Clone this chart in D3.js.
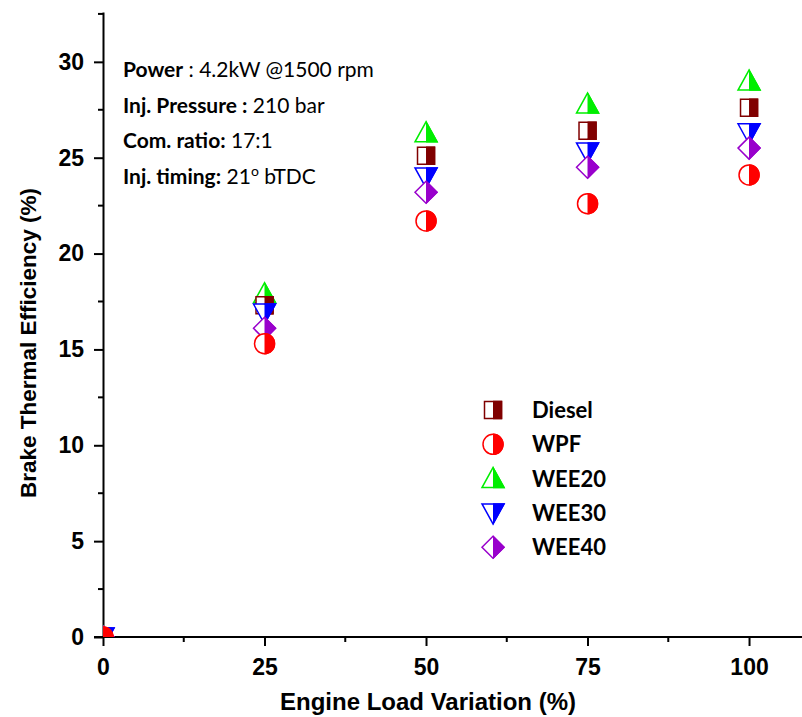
<!DOCTYPE html>
<html>
<head>
<meta charset="utf-8">
<title>Brake Thermal Efficiency</title>
<script src="https://d3js.org/d3.v7.min.js"></script>
<style>
  body { margin: 0; background: #fff; }
  svg { display: block; }
</style>
</head>
<body>
<svg width="802" height="717"></svg>
<script>
// data
var loads = [0, 25, 50, 75, 100];
var diesel = [0, 17.3, 25.1, 26.4, 27.6];
var wpf    = [0, 15.3, 21.7, 22.6, 24.1];
var wee20  = [0, 17.9, 26.3, 27.8, 29.0];
var wee30  = [0, 16.9, 24.0, 25.3, 26.3];
var wee40  = [0, 16.1, 23.2, 24.5, 25.5];
var xTicks = [0, 25, 50, 75, 100];
var yTicks = [0, 5, 10, 15, 20, 25, 30];
var notes = [
  ["Power", "  : 4.2kW @1500 rpm"],
  ["Inj. Pressure :", " 210 bar"],
  ["Com. ratio:", " 17:1"],
  ["Inj. timing:", " 21", "o", " bTDC"]
];

var series = [
  { name: "Diesel", values: diesel, color: "#800000", shape: "square" },
  { name: "WPF",    values: wpf,    color: "#ff0000", shape: "circle" },
  { name: "WEE20",  values: wee20,  color: "#00ee00", shape: "up" },
  { name: "WEE30",  values: wee30,  color: "#0000ff", shape: "down" },
  { name: "WEE40",  values: wee40,  color: "#9900cc", shape: "diamond" }
];

var svg = d3.select("svg");
// plot box (note: "top" is reserved on window, so use other names)
var plotL = 103, plotT = 12, plotR = 802, plotB = 637;

var x = d3.scaleLinear().domain([0, 108.2]).range([plotL, plotR]);
var y = d3.scaleLinear().domain([0, 32.6]).range([plotB, plotT]);

var defs = svg.append("defs");
defs.append("clipPath").attr("id", "plot")
  .append("rect").attr("x", plotL).attr("y", plotT - 20)
  .attr("width", plotR - plotL).attr("height", plotB - plotT + 20);
defs.append("clipPath").attr("id", "half")
  .append("rect").attr("x", 0).attr("y", -20).attr("width", 20).attr("height", 40);

function shapePath(s) {
  if (s == "square") return "M-8.5,-8.5H8.5V8.5H-8.5Z";
  if (s == "up") return "M0,-11L11,9H-11Z";
  if (s == "down") return "M0,11L11,-9H-11Z";
  if (s == "diamond") return "M0,-11L11,0L0,11L-11,0Z";
  return d3.arc()({ innerRadius: 0, outerRadius: 10, startAngle: 0, endAngle: 2 * Math.PI });
}

function marker(g, s, color) {
  g.append("path").attr("d", shapePath(s))
    .attr("fill", "#fff").attr("stroke", color).attr("stroke-width", 1.5);
  g.append("path").attr("d", shapePath(s))
    .attr("fill", color).attr("stroke", color).attr("stroke-width", 1.5)
    .attr("clip-path", "url(#half)");
}

// axes
var xAxis = d3.axisBottom(x).tickValues(xTicks).tickSize(9).tickSizeOuter(0).tickPadding(13);
var yAxis = d3.axisLeft(y).tickValues(yTicks).tickSize(9).tickSizeOuter(0).tickPadding(10);

var gx = svg.append("g").attr("transform", "translate(0," + plotB + ")").call(xAxis);
var gy = svg.append("g").attr("transform", "translate(" + plotL + ",0)").call(yAxis);

[gx, gy].forEach(function(g) {
  g.select(".domain").attr("stroke", "#000").attr("stroke-width", 2);
  g.selectAll(".tick line").attr("stroke", "#000").attr("stroke-width", 2);
  g.selectAll(".tick text").attr("fill", "#000")
    .style("font-family", "'Liberation Sans', Arial, sans-serif")
    .style("font-size", "23px").style("font-weight", "bold");
});
gx.select(".domain").attr("d", "M" + (plotL - 9) + ",0H" + plotR);

// minor ticks
svg.append("g").selectAll("line")
  .data([12.5, 37.5, 62.5, 87.5]).enter().append("line")
  .attr("x1", function(d) { return x(d); }).attr("x2", function(d) { return x(d); })
  .attr("y1", plotB).attr("y2", plotB + 5)
  .attr("stroke", "#000").attr("stroke-width", 2);
svg.append("g").selectAll("line")
  .data([2.5, 7.5, 12.5, 17.5, 22.5, 27.5, 32.5]).enter().append("line")
  .attr("y1", function(d) { return y(d); }).attr("y2", function(d) { return y(d); })
  .attr("x1", plotL - 5).attr("x2", plotL)
  .attr("stroke", "#000").attr("stroke-width", 2);

// axis titles
svg.append("text")
  .attr("x", 428).attr("y", 710).attr("text-anchor", "middle")
  .style("font-family", "'Liberation Sans', Arial, sans-serif")
  .style("font-size", "24px").style("font-weight", "bold")
  .text("Engine Load Variation (%)");
svg.append("text")
  .attr("transform", "translate(36,343) rotate(-90)").attr("text-anchor", "middle")
  .style("font-family", "'Liberation Sans', Arial, sans-serif")
  .style("font-size", "22.5px").style("font-weight", "bold")
  .text("Brake Thermal Efficiency (%)");

// points
var plot = svg.append("g").attr("clip-path", "url(#plot)");
var order = [2, 0, 3, 4, 1];
order.forEach(function(k) {
  var s = series[k];
  loads.forEach(function(l, i) {
    var g = plot.append("g").append("g")
      .attr("transform", "translate(" + x(l) + "," + y(s.values[i]) + ")");
    marker(g, s.shape, s.color);
  });
});

// legend
series.forEach(function(s, i) {
  var yy = 410 + i * 34.3;
  var g = svg.append("g").attr("transform", "translate(493," + yy + ")");
  marker(g, s.shape, s.color);
  svg.append("text").attr("x", 532).attr("y", yy + 8)
    .style("font-family", "Lato, 'Open Sans', sans-serif")
    .style("font-size", "22px").style("font-weight", "bold")
    .text(s.name);
});

// operating conditions
notes.forEach(function(n, i) {
  var t = svg.append("text").attr("x", 123).attr("y", 77 + i * 35.5)
    .style("font-family", "Lato, 'Open Sans', sans-serif")
    .style("font-size", "21px").attr("fill", "#000");
  t.append("tspan").style("font-weight", "bold").text(n[0]);
  t.append("tspan").text(n[1]);
  if (n.length > 2) {
    t.append("tspan").attr("dy", -8).style("font-size", "14px").text(n[2]);
    t.append("tspan").attr("dy", 8).text(n[3]);
  }
});
</script>
</body>
</html>
